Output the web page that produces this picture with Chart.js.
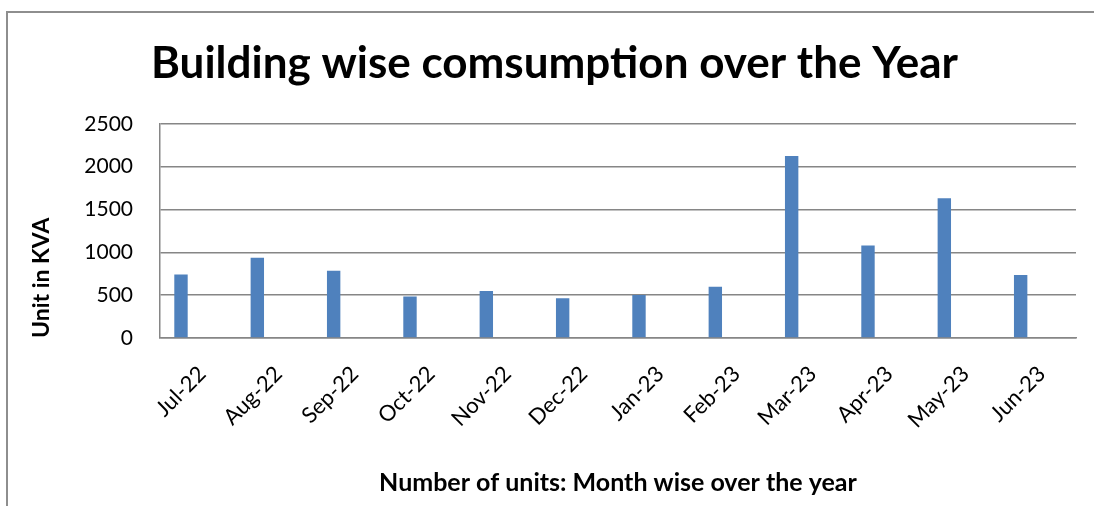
<!DOCTYPE html>
<html><head><meta charset="utf-8">
<script src="https://cdn.jsdelivr.net/npm/chart.js@4.4.0/dist/chart.umd.min.js"></script>
<style>
html,body{margin:0;padding:0;background:#fff;}
#wrap{position:relative;width:1094px;height:506px;overflow:hidden;}
#frame{position:absolute;left:6px;top:11px;right:-10px;bottom:-10px;border-top:2px solid #8e8e8e;border-left:2px solid #8e8e8e;pointer-events:none;}
canvas{position:absolute;left:0;top:0;}
</style></head><body>
<div id="wrap"><canvas id="c" width="1094" height="506"></canvas><div id="frame"></div></div>
<script>
const categories = ['Jul-22','Aug-22','Sep-22','Oct-22','Nov-22','Dec-22','Jan-23','Feb-23','Mar-23','Apr-23','May-23','Jun-23'];
const consumption = [740, 938, 786, 484, 550, 465, 503, 597, 2123, 1079, 1632, 735];
const emptySeries = [null, null, null, null, null, null, null, null, null, null, null, null];
const yTicks = [0, 500, 1000, 1500, 2000, 2500];
const chartTitle = 'Building wise comsumption over the Year';
const xTitle = 'Number of units: Month wise over the year';
const yTitle = 'Unit in KVA';

Chart.defaults.font.family = 'Lato, "Open Sans", sans-serif';
Chart.defaults.color = '#000';

const axisGray = '#868686';

new Chart(document.getElementById('c'), {
  type: 'bar',
  data: {
    labels: categories,
    datasets: [
      { label: 'Consumption', data: consumption, backgroundColor: '#4f81bd', borderWidth: 0,
        categoryPercentage: 0.9, barPercentage: 0.39 },
      { label: '', data: emptySeries, backgroundColor: '#c0504d', borderWidth: 0,
        categoryPercentage: 0.9, barPercentage: 0.39 }
    ]
  },
  options: {
    responsive: false,
    animation: false,
    devicePixelRatio: 1,
    layout: { padding: { left: 33, right: 18, top: 0, bottom: 0 } },
    plugins: {
      legend: { display: false },
      tooltip: { enabled: false },
      title: {
        display: true,
        text: chartTitle,
        font: { size: 44, weight: 'bold' },
        color: '#000',
        padding: { top: 37, bottom: 34 }
      }
    },
    scales: {
      x: {
        grid: { display: false, drawTicks: false },
        border: { color: axisGray, width: 1.5 },
        ticks: { autoSkip: false, maxRotation: 45, minRotation: 45, padding: 23, labelOffset: 4, font: { size: 22 }, color: '#000' },
        title: { display: true, text: xTitle, font: { size: 25, weight: 'bold' }, color: '#000', padding: { top: 0, bottom: 8 } },
        afterFit: s => { s.height = 168; }
      },
      y: {
        min: 0, max: 2500,
        afterBuildTicks: s => { s.ticks = yTicks.map(v => ({ value: v })); },
        grid: { color: axisGray, lineWidth: 1.5, drawTicks: false },
        border: { color: axisGray, width: 1.5 },
        ticks: { padding: 27, font: { size: 21 }, color: '#000', callback: v => String(v) },
        title: { display: true, text: yTitle, align: 'start', font: { size: 23, weight: 'bold' }, color: '#000', padding: { top: -5, bottom: 0 } },
        afterFit: s => { s.width = 127; }
      }
    }
  }
});
</script>
</body></html>
